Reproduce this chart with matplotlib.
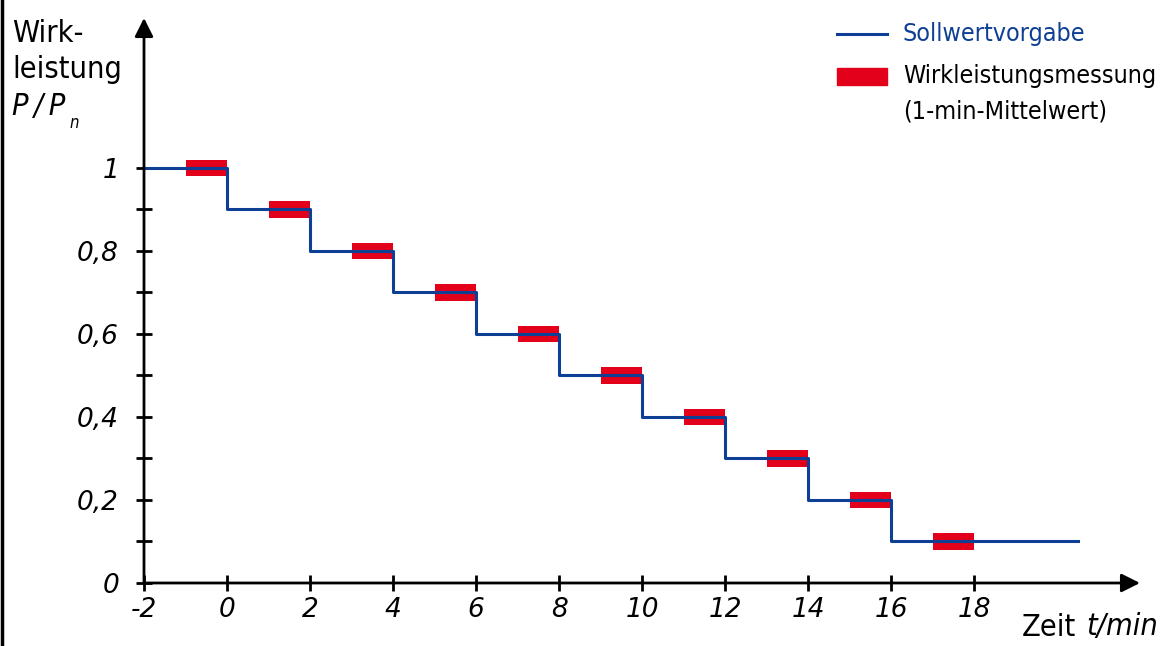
import matplotlib.pyplot as plt
from matplotlib.lines import Line2D
from matplotlib.patches import Rectangle

# Sollwertvorgabe: step starts (min) and levels P/Pn
step_t = [-2, 0, 2, 4, 6, 8, 10, 12, 14, 16]
step_p = [1.0, 0.9, 0.8, 0.7, 0.6, 0.5, 0.4, 0.3, 0.2, 0.1]
t_end = 20.5

# Wirkleistungsmessung (1-min-Mittelwert): start of each averaging minute
meas_t = [-1, 1, 3, 5, 7, 9, 11, 13, 15, 17]
meas_p = [1.0, 0.9, 0.8, 0.7, 0.6, 0.5, 0.4, 0.3, 0.2, 0.1]

x_ticks = [-2, 0, 2, 4, 6, 8, 10, 12, 14, 16, 18]
y_ticks = [0, 0.1, 0.2, 0.3, 0.4, 0.5, 0.6, 0.7, 0.8, 0.9, 1.0]
y_labels = ['0', '', '0,2', '', '0,4', '', '0,6', '', '0,8', '', '1']

blue = '#0d3f94'
red = '#e2001a'
fam = 'DejaVu Sans'

fig = plt.figure(figsize=(11.63, 6.46), dpi=100)
ax = fig.add_axes([144 / 1163, 63 / 646, 996 / 1163, 565 / 646])
ax.set_xlim(-2, 22)
ax.set_ylim(0, 1.361)

# measurement bars
bar_h = 0.04
ax.bar(meas_t, [bar_h] * len(meas_p), bottom=[p - bar_h / 2 for p in meas_p],
       width=1, align='edge', color=red, zorder=2)

# setpoint step line
xs = step_t + [t_end]
ys = step_p + [step_p[-1]]
ax.step(xs, ys, where='post', color=blue, lw=2.2, zorder=3)

# axes with arrows
for s in ax.spines.values():
    s.set_visible(False)
ax.annotate('', xy=(1, 0), xytext=(0, 0), xycoords='axes fraction',
            arrowprops=dict(arrowstyle='-|>', color='black', lw=2,
                            mutation_scale=28, shrinkA=0, shrinkB=0))
ax.annotate('', xy=(0, 1), xytext=(0, 0), xycoords='axes fraction',
            arrowprops=dict(arrowstyle='-|>', color='black', lw=2,
                            mutation_scale=28, shrinkA=0, shrinkB=0))

ax.set_xticks(x_ticks)
ax.set_xticklabels([str(t) for t in x_ticks])
ax.set_yticks(y_ticks)
ax.set_yticklabels(y_labels)
ax.tick_params(direction='inout', length=12, width=2, color='black')
ax.tick_params(axis='x', pad=4)
ax.tick_params(axis='y', pad=12)
for lab in ax.get_xticklabels() + ax.get_yticklabels():
    lab.set_fontstyle('italic')
    lab.set_fontsize(19)
    lab.set_family(fam)

# axis titles
tk = dict(fontsize=22, family=fam, fontstretch='condensed', va='center')
fig.text(12 / 1163, 1 - 33 / 646, 'Wirk-', **tk)
fig.text(12 / 1163, 1 - 69 / 646, 'leistung', **tk)
pp = fig.text(12 / 1163, 1 - 106 / 646, 'P\u2009/\u2009P', style='italic', **tk)
ax.annotate('n', xy=(1, 0), xycoords=pp, xytext=(3, -2), textcoords='offset points',
            style='italic', fontsize=12, family=fam, fontstretch='condensed',
            va='center', annotation_clip=False)
zt = fig.text(1022 / 1163, 1 - 627 / 646, 'Zeit', **tk)
ax.annotate('t/min', xy=(1, 0.5), xycoords=zt, xytext=(7, 0), textcoords='offset points',
            style='italic', va='center', fontsize=22, family=fam,
            fontstretch='condensed', annotation_clip=False)

# legend
fig.add_artist(Line2D([837 / 1163, 887 / 1163], [1 - 34 / 646, 1 - 34 / 646],
                      color=blue, lw=2.2))
fig.add_artist(Rectangle((837 / 1163, 1 - 85 / 646), 50 / 1163, 17 / 646,
                         color=red, transform=fig.transFigure))
lk = dict(fontsize=18, family=fam, fontstretch='condensed', va='center')
fig.text(903 / 1163, 1 - 34 / 646, 'Sollwertvorgabe', color=blue, **lk)
fig.text(903 / 1163, 1 - 76 / 646, 'Wirkleistungsmessung', **lk)
fig.text(903 / 1163, 1 - 111 / 646, '(1-min-Mittelwert)', **lk)

# frame line on the left edge
fig.add_artist(Line2D([2 / 1163, 2 / 1163], [0, 1], color='black', lw=2.5))

fig.savefig('out.png', dpi=100)
